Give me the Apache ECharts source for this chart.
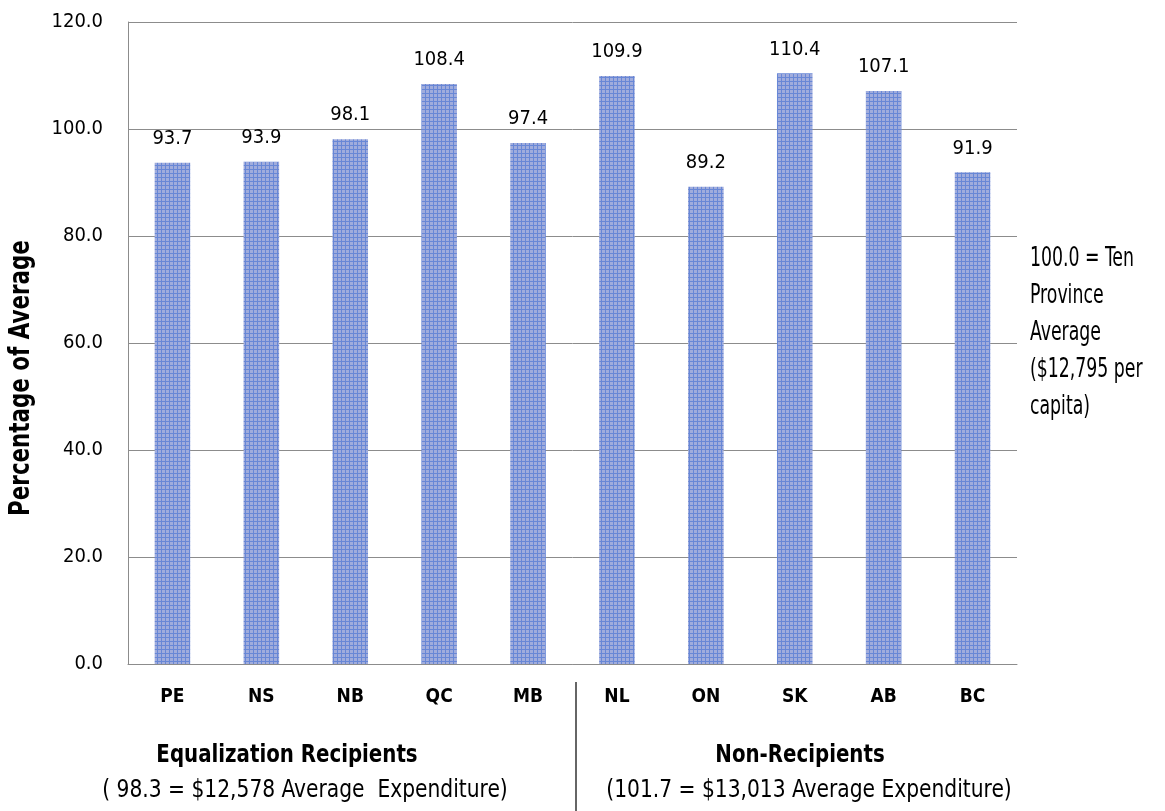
<!DOCTYPE html>
<html>
<head>
<meta charset="utf-8">
<script src="https://cdn.jsdelivr.net/npm/echarts@6/dist/echarts.min.js"></script>
<style>
  html, body { margin: 0; padding: 0; background: #fff; }
  #chart { width: 1165px; height: 811px; }
</style>
</head>
<body>
<div id="chart"></div>
<script>
// data
const provinces = ['PE', 'NS', 'NB', 'QC', 'MB', 'NL', 'ON', 'SK', 'AB', 'BC'];
const pctOfAverage = [93.7, 93.9, 98.1, 108.4, 97.4, 109.9, 89.2, 110.4, 107.1, 91.9];
const yTicks = [0, 20, 40, 60, 80, 100, 120];
const yTitle = 'Percentage of Average';
const groupTitles = ['Equalization Recipients', 'Non-Recipients'];
const groupNotes = ['( 98.3 = $12,578 Average  Expenditure)', '(101.7 = $13,013 Average Expenditure)'];
const sideNote = ['100.0 = Ten', 'Province', 'Average', '($12,795 per', 'capita)'];

const FONT = '"DejaVu Sans Condensed", "Liberation Sans Narrow", sans-serif';

// small crossed tile for the bar fill (blue crosses on pale lavender)
const tile = document.createElement('canvas');
tile.width = 4; tile.height = 4;
const tctx = tile.getContext('2d');
tctx.fillStyle = '#a0acdc';
tctx.fillRect(0, 0, 4, 4);
tctx.fillStyle = '#6887d6';
tctx.fillRect(1, 0, 1, 4);
tctx.fillRect(0, 1, 4, 1);

const chart = echarts.init(document.getElementById('chart'));

// centred text helper, squeezed sideways to look like the condensed original
const txt = (x, y, text, font, sx, extra) => Object.assign({
  type: 'text', x, y, scaleX: sx,
  style: { text, font, fill: '#000', textAlign: 'center', textVerticalAlign: 'middle' }
}, extra || {});

const option = {
  animation: false,
  grid: { left: 128, right: 148, top: 22, bottom: 147 },
  xAxis: {
    type: 'category',
    data: provinces,
    axisLine: { lineStyle: { color: '#8c8c8c', width: 1 } },
    axisTick: { show: false },
    axisLabel: { color: '#000', fontFamily: FONT, fontWeight: 'bold', fontSize: 19, margin: 24 }
  },
  yAxis: {
    type: 'value',
    min: yTicks[0],
    max: yTicks[yTicks.length - 1],
    interval: yTicks[1] - yTicks[0],
    axisLine: { show: true, lineStyle: { color: '#8c8c8c' } },
    axisTick: { show: false },
    axisLabel: {
      color: '#000', fontFamily: FONT, fontSize: 20, margin: 25,
      formatter: v => v.toFixed(1)
    },
    splitLine: { lineStyle: { color: '#8c8c8c', width: 1 } }
  },
  series: [{
    type: 'bar',
    data: pctOfAverage,
    barWidth: '40%',
    itemStyle: { color: { image: tile, repeat: 'repeat' } },
    label: {
      show: true, position: 'top', distance: 14,
      color: '#000', fontFamily: FONT, fontSize: 20,
      formatter: p => p.value.toFixed(1)
    }
  }],
  graphic: [
    { type: 'line', shape: { x1: 576, y1: 682, x2: 576, y2: 811 }, style: { stroke: '#333', lineWidth: 1.5 } },
    txt(22, 378, yTitle, 'bold 28px ' + FONT, 0.85, { rotation: Math.PI / 2 }),
    txt(287, 755, groupTitles[0], 'bold 25px ' + FONT, 0.88),
    txt(305, 790, groupNotes[0], '25px ' + FONT, 0.9),
    txt(800, 755, groupTitles[1], 'bold 25px ' + FONT, 0.88),
    txt(809, 790, groupNotes[1], '25px ' + FONT, 0.9),
    {
      type: 'text', x: 1030, y: 241, scaleX: 0.74,
      style: { text: sideNote.join('\n'), font: '26px ' + FONT, lineHeight: 37, fill: '#000', textAlign: 'left' }
    }
  ]
};

chart.setOption(option);
</script>
</body>
</html>
